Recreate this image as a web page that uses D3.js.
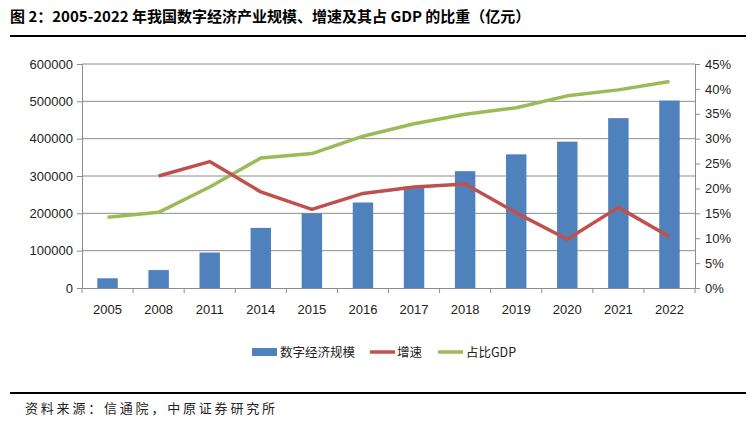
<!DOCTYPE html>
<html><head><meta charset="utf-8">
<script src="https://cdn.jsdelivr.net/npm/d3@7"></script>
<style>body{margin:0;background:#fff}svg{display:block}</style>
</head><body>
<svg id="c" width="754" height="423"></svg>
<script>
const years = ["2005","2008","2011","2014","2015","2016","2017","2018","2019","2020","2021","2022"];
const scale = [26000,48000,95000,161000,200000,229000,272000,313000,358000,392000,455000,502000];
const growth = [null,22.5,25.4,19.3,15.8,19.0,20.3,20.9,15.1,9.8,16.2,10.3];
const share = [14.2,15.2,20.3,26.1,27.0,30.5,33.0,34.9,36.2,38.6,39.8,41.5];
const leftTicks = [0,100000,200000,300000,400000,500000,600000];
const rightTicks = [0,5,10,15,20,25,30,35,40,45];

const svg = d3.select("#c");
const L = 82, R = 695, T = 64, B = 288;
const x = d3.scaleBand().domain(years).range([L, R]);
const yL = d3.scaleLinear().domain([0,600000]).range([B, T]);
const yR = d3.scaleLinear().domain([0,45]).range([B, T]);
const tickFont = "'Liberation Sans Narrow','Arial Narrow',sans-serif";

// title
svg.append("text").attr("x",10).attr("y",22).attr("font-family","'Noto Sans CJK SC',sans-serif")
  .attr("font-weight","bold").attr("font-size",15).attr("fill","#000")
  .text("图 2：2005-2022 年我国数字经济产业规模、增速及其占 GDP 的比重（亿元）");
svg.append("line").attr("x1",10).attr("x2",746).attr("y1",36).attr("y2",36).attr("stroke","#000").attr("stroke-width",2);

// gridlines
svg.append("g").selectAll("line").data(leftTicks.slice(1)).join("line")
  .attr("x1",L).attr("x2",R).attr("y1",d=>yL(d)).attr("y2",d=>yL(d))
  .attr("stroke","#8c8c8c").attr("stroke-width",1);

// bars
svg.append("g").selectAll("rect").data(years).join("rect")
  .attr("x",d=>x(d)+x.bandwidth()*0.3).attr("width",x.bandwidth()*0.4)
  .attr("y",(d,i)=>yL(scale[i])).attr("height",(d,i)=>B-yL(scale[i]))
  .attr("fill","#4F81BD");

// axes
const gL = svg.append("g").attr("transform",`translate(${L},0)`)
  .call(d3.axisLeft(yL).tickValues(leftTicks).tickFormat(d3.format("d")).tickSize(5).tickPadding(4));
const gR = svg.append("g").attr("transform",`translate(${R},0)`)
  .call(d3.axisRight(yR).tickValues(rightTicks).tickFormat(d=>d+"%").tickSize(5).tickPadding(5));
const gB = svg.append("g").attr("transform",`translate(0,${B})`)
  .call(d3.axisBottom(x).tickSize(0).tickPadding(17));
[gL,gR,gB].forEach(g=>{
  g.select(".domain").attr("stroke","#8c8c8c");
  g.selectAll(".tick line").attr("stroke","#8c8c8c");
  g.selectAll("text").attr("font-family",tickFont).attr("font-size",13).attr("fill","#222");
});
// category separator ticks
svg.append("g").selectAll("line").data(d3.range(years.length+1)).join("line")
  .attr("x1",i=>L+i*x.step()).attr("x2",i=>L+i*x.step()).attr("y1",B).attr("y2",B+5)
  .attr("stroke","#8c8c8c");

// lines
const lineG = d3.line().defined(d=>d[1]!=null).x(d=>x(d[0])+x.bandwidth()/2).y(d=>yR(d[1]));
svg.append("path").datum(years.map((y,i)=>[y,share[i]])).attr("d",lineG)
  .attr("fill","none").attr("stroke","#9BBB59").attr("stroke-width",3.5).attr("stroke-linejoin","round");
svg.append("path").datum(years.map((y,i)=>[y,growth[i]])).attr("d",lineG)
  .attr("fill","none").attr("stroke","#C0504D").attr("stroke-width",3.5).attr("stroke-linejoin","round");

// legend
const lg = svg.append("g").attr("font-family","'Noto Sans CJK SC',sans-serif").attr("font-size",12.5).attr("fill","#222");
lg.append("rect").attr("x",252).attr("y",348).attr("width",25).attr("height",8).attr("fill","#4F81BD");
lg.append("text").attr("x",280).attr("y",357).text("数字经济规模");
lg.append("line").attr("x1",370).attr("x2",395).attr("y1",352).attr("y2",352).attr("stroke","#C0504D").attr("stroke-width",3.5);
lg.append("text").attr("x",397).attr("y",357).text("增速");
lg.append("line").attr("x1",438).attr("x2",463).attr("y1",352).attr("y2",352).attr("stroke","#9BBB59").attr("stroke-width",3.5);
lg.append("text").attr("x",466).attr("y",357).text("占比GDP");

// source
svg.append("line").attr("x1",10).attr("x2",746).attr("y1",393).attr("y2",393).attr("stroke","#000").attr("stroke-width",2);
svg.append("text").attr("x",25).attr("y",413).attr("font-family","'Noto Sans CJK SC',sans-serif")
  .attr("font-size",13).attr("letter-spacing",2.8).attr("fill","#222").text("资料来源：信通院，中原证券研究所");
</script>
</body></html>
